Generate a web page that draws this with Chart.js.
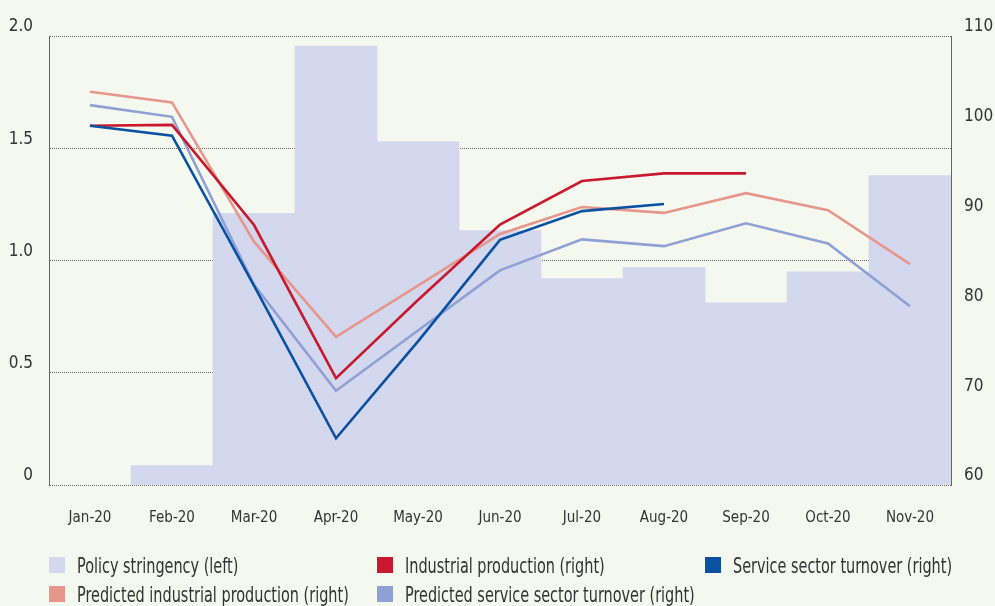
<!DOCTYPE html>
<html>
<head>
<meta charset="utf-8">
<script src="https://cdn.jsdelivr.net/npm/chart.js@4.4.1/dist/chart.umd.min.js"></script>
<style>
    html, body { margin: 0; padding: 0; background: #f5f8ee; }
    #wrap { position: relative; width: 995px; height: 606px; }
    #legend {
        position: absolute; left: 49px; top: 555px;
        display: grid; grid-template-columns: 328px 328px auto; grid-auto-rows: 29px;
        font-family: "DejaVu Sans Condensed", sans-serif;
        font-size: 22px; color: #333;
    }
    .item { display: flex; align-items: center; height: 20px; white-space: nowrap; }
    .box { width: 16px; height: 16px; margin-right: 12px; flex: none; }
    .txt { display: inline-block; transform-origin: left center; transform: scaleX(0.73); }
</style>
</head>
<body>
<div id="wrap">
    <canvas id="chart"></canvas>
    <div id="legend"></div>
</div>
<script>
const months = ["Jan-20", "Feb-20", "Mar-20", "Apr-20", "May-20", "Jun-20", "Jul-20", "Aug-20", "Sep-20", "Oct-20", "Nov-20"];
const stringency = [null, 0.086, 1.21, 1.955, 1.53, 1.133, 0.92, 0.968, 0.812, 0.95, 1.378];
const industrial = [100.0, 100.1, 88.95, 71.9, 80.6, 89.0, 93.85, 94.7, 94.7, null, null];
const services = [100.0, 98.9, 82.2, 65.2, 76.0, 87.3, 90.5, 91.3, null, null, null];
const predIndustrial = [103.8, 102.6, 87.1, 76.5, 82.2, 87.95, 90.95, 90.3, 92.5, 90.6, 84.6];
const predServices = [102.3, 101.0, 82.3, 70.5, 77.2, 83.9, 87.35, 86.6, 89.15, 86.9, 79.9];

const colors = {
    stringency: "#d3d8ee",
    industrial: "#c8192e",
    services: "#0a51a1",
    predIndustrial: "#e6968b",
    predServices: "#8fa0d5"
};

function line(label, data, color, order) {
    return {
        type: "line",
        label: label,
        data: data,
        borderColor: color,
        backgroundColor: color,
        borderWidth: 2.6,
        pointRadius: 0,
        tension: 0,
        yAxisID: "y1",
        order: order
    };
}

const datasets = [
    {
        type: "bar",
        label: "Policy stringency (left)",
        data: stringency,
        backgroundColor: colors.stringency,
        barPercentage: 1,
        categoryPercentage: 1,
        yAxisID: "y",
        order: 10
    },
    line("Predicted industrial production (right)", predIndustrial, colors.predIndustrial, 4),
    line("Predicted service sector turnover (right)", predServices, colors.predServices, 3),
    line("Industrial production (right)", industrial, colors.industrial, 2),
    line("Service sector turnover (right)", services, colors.services, 1)
];

const fontFamily = "'DejaVu Sans Condensed', sans-serif";

new Chart(document.getElementById("chart"), {
    data: { labels: months, datasets: datasets },
    options: {
        responsive: true,
        maintainAspectRatio: false,
        animation: false,
        layout: { padding: { top: 36, left: 0, right: 0, bottom: 0 } },
        plugins: { legend: { display: false }, tooltip: { enabled: false } },
        scales: {
            x: {
                offset: true,
                grid: { display: false, drawTicks: false },
                border: { display: false },
                ticks: {
                    color: "#333",
                    font: { family: fontFamily, size: 15 },
                    padding: 24,
                    maxRotation: 0,
                    autoSkip: false
                },
                afterFit: s => { s.height = 121; }
            },
            y: {
                type: "linear",
                position: "left",
                min: 0,
                max: 2,
                grid: { color: "#666", lineWidth: 1, drawTicks: false },
                border: { display: true, color: "#666", dash: [1, 1] },
                ticks: {
                    stepSize: 0.5,
                    color: "#333",
                    font: { family: fontFamily, size: 17 },
                    padding: 16,
                    labelOffset: -9,
                    callback: v => v === 0 ? "0" : v.toFixed(1)
                },
                afterFit: s => { s.width = 49; }
            },
            y1: {
                type: "linear",
                position: "right",
                min: 60,
                max: 110,
                grid: { display: false, drawTicks: false },
                border: { display: true, color: "#666", dash: [1, 1] },
                ticks: {
                    stepSize: 10,
                    color: "#333",
                    font: { family: fontFamily, size: 17 },
                    padding: 13,
                    labelOffset: -9
                },
                afterFit: s => { s.width = 44; }
            }
        }
    }
});

// legend in three columns, same order as the original
const legendItems = [
    ["Policy stringency (left)", colors.stringency],
    ["Industrial production (right)", colors.industrial],
    ["Service sector turnover (right)", colors.services],
    ["Predicted industrial production (right)", colors.predIndustrial],
    ["Predicted service sector turnover (right)", colors.predServices]
];
const legend = document.getElementById("legend");
legendItems.forEach(([text, color]) => {
    const el = document.createElement("div");
    el.className = "item";
    el.innerHTML = '<span class="box" style="background:' + color + '"></span><span class="txt">' + text + '</span>';
    legend.appendChild(el);
});
</script>
</body>
</html>
